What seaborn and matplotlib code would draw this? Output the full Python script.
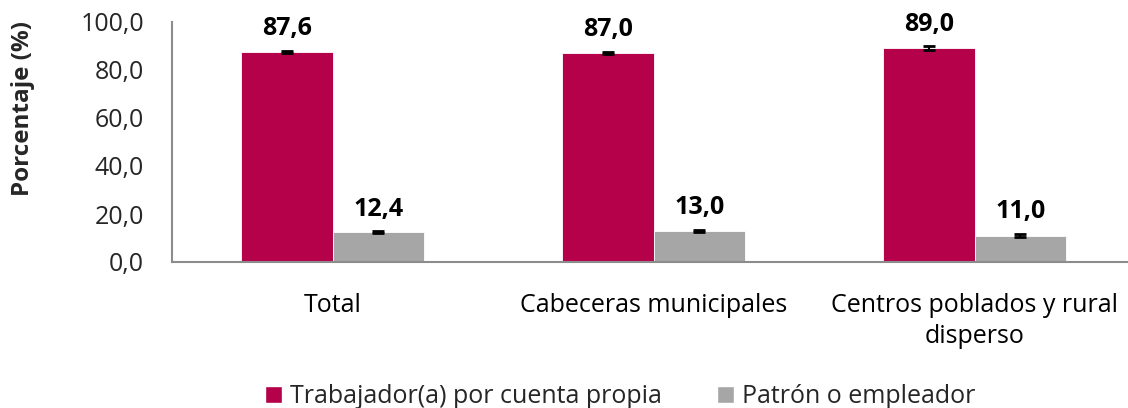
import matplotlib
matplotlib.use("Agg")
import matplotlib.pyplot as plt
import seaborn as sns
import pandas as pd
import numpy as np
from matplotlib.patches import Patch

categories = ["Total", "Cabeceras municipales", "Centros poblados y rural\ndisperso"]
series_names = ["Trabajador(a) por cuenta propia", "Patrón o empleador"]
propia = [87.6, 87.0, 89.0]
patron = [12.4, 13.0, 11.0]
propia_err = [0.4, 0.5, 0.8]
patron_err = [0.4, 0.5, 0.7]
yticks = [0, 20, 40, 60, 80, 100]
colors = ["#B5004A", "#A6A6A6"]

df = pd.DataFrame({
    "cat": categories * 2,
    "serie": [series_names[0]] * 3 + [series_names[1]] * 3,
    "val": propia + patron,
    "err": propia_err + patron_err,
})

sns.set_theme(style="white")
plt.rcParams['font.family'] = ['Open Sans', 'DejaVu Sans']

fig = plt.figure(figsize=(11.28, 4.08), dpi=100)
ax = fig.add_axes([172/1128, 1-262/408, 963/1128, 240/408])

sns.barplot(data=df, x="cat", y="val", hue="serie", order=categories,
            hue_order=series_names, palette=colors, width=0.57,
            errorbar=None, ax=ax, legend=False, saturation=1,
            edgecolor="white", linewidth=0.6)

vals = []
for i, s in enumerate(series_names):
    sub = df[df.serie == s].set_index("cat").loc[categories]
    for j, c in enumerate(categories):
        vals.append((sub.loc[c, "val"], sub.loc[c, "err"]))
for p, (v, e) in zip(ax.patches[:6], vals):
    xc = p.get_x() + p.get_width() / 2
    ax.errorbar(xc, v, yerr=e, fmt="none", ecolor="black", elinewidth=1.5,
                capsize=4.3, capthick=2)
    ax.annotate(f"{v:.1f}".replace(".", ","), (xc, v + e), xytext=(0, 7),
                textcoords="offset points", ha="center", va="bottom",
                fontsize=18, fontweight="bold", color="black")

ax.set_xlim(-0.5, 2.5)
ax.set_ylim(0, 100)
ax.set_yticks(yticks)
ax.set_yticklabels([f"{t:.1f}".replace(".", ",") for t in yticks], fontsize=18)
ax.set_xticks(range(3))
ax.set_xticklabels(categories, fontsize=18, linespacing=1.35)
ax.set_xticks([-0.5, 0.5, 1.5, 2.5], minor=True)
ax.tick_params(axis="x", which="major", length=0, pad=22, colors="black")
ax.tick_params(axis="x", which="minor", length=8, width=1.5, color="#8C8C8C", direction="out")
ax.tick_params(axis="y", which="major", length=7, width=1.5, color="#8C8C8C", direction="out", pad=13)
ax.set_xlabel("")
ax.set_ylabel("Porcentaje (%)", fontsize=17.5, fontweight="bold", va="center")
ax.yaxis.set_label_coords(-0.155, 0.64)
for s in ["top", "right"]:
    ax.spines[s].set_visible(False)
for s in ["left", "bottom"]:
    ax.spines[s].set_color("#8C8C8C")
    ax.spines[s].set_linewidth(1.5)

handles = [Patch(facecolor=colors[0], label=series_names[0]),
           Patch(facecolor=colors[1], label=series_names[1])]
fig.legend(handles=handles, loc="lower center", bbox_to_anchor=(0.55, -0.058), ncol=2,
           frameon=False, fontsize=18, handlelength=0.68, handleheight=0.68,
           handletextpad=0.32, columnspacing=2.2)

fig.savefig("out.png", dpi=100)
